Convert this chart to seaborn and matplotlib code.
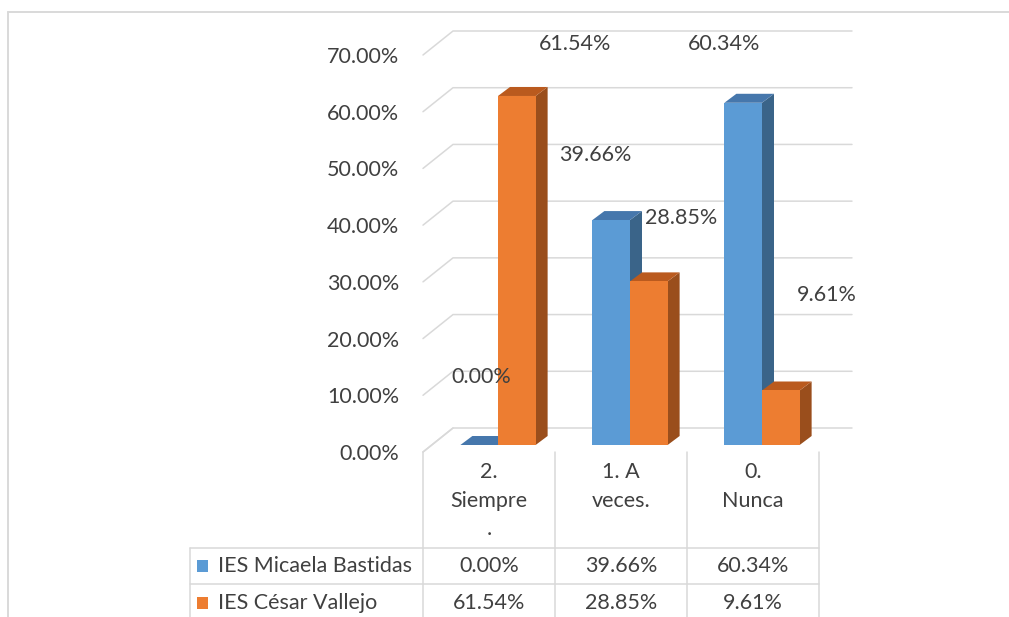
import numpy as np
import pandas as pd
import seaborn as sns
import matplotlib
matplotlib.use("Agg")
import matplotlib.pyplot as plt
from matplotlib.patches import Polygon, Rectangle
from matplotlib.lines import Line2D
import matplotlib.transforms as mtransforms

# ---------------- data ----------------
categories = ["2.\nSiempre\n.", "1. A\nveces.", "0.\nNunca"]
series_names = ["IES Micaela Bastidas", "IES César Vallejo"]
micaela = [0.00, 39.66, 60.34]
cesar = [61.54, 28.85, 9.61]
yticks = [0, 10, 20, 30, 40, 50, 60, 70]

# ---------------- style ----------------
sns.set_theme(style="white")
plt.rcParams['font.family'] = ['Lato', 'DejaVu Sans']
TXT = '#404040'
GRID = '#D9D9D9'
FS = 15.5
colors_front = ['#5B9BD5', '#ED7D31']
colors_top = ['#4677AC', '#BA5A1E']
colors_side = ['#3A6489', '#9A4E1C']

W, H = 1009, 617
fig = plt.figure(figsize=(W / 100, H / 100), dpi=100)
ID = mtransforms.IdentityTransform()


def dy(ytop):
    return H - ytop


ax_l, ax_r, ax_t, ax_b = 423, 819, 55, 452
ax = fig.add_axes([ax_l / W, (H - ax_b) / H, (ax_r - ax_l) / W, (ax_b - ax_t) / H])

df = pd.DataFrame({
    "cat": categories * 2,
    "series": [series_names[0]] * 3 + [series_names[1]] * 3,
    "val": micaela + cesar,
})
sns.barplot(data=df, x="cat", y="val", hue="series", order=categories,
            hue_order=series_names, palette=colors_front, width=0.57,
            saturation=1, ax=ax, legend=False, linewidth=0, edgecolor='none')
ax.set_xlim(-0.5, 2.5)
ax.set_ylim(0, 70)
ax.set_xlabel("")
ax.set_ylabel("")
for s in ax.spines.values():
    s.set_visible(False)
ax.set_yticks(yticks)
ax.set_yticklabels([f"{v:.2f}%" for v in yticks], fontsize=FS, color=TXT)
ax.set_xticks(range(len(categories)))
ax.set_xticklabels(categories, fontsize=FS, color=TXT, linespacing=1.55)
ax.tick_params(axis='y', length=0, pad=17)
ax.tick_params(axis='x', length=0, pad=7)
ax.patch.set_alpha(0)

fig.canvas.draw()
T = ax.transData

# ---------------- back wall gridlines ----------------
WDX, WDY = 30, 24
for v in yticks:
    x0, y0 = T.transform((-0.5, v))
    x1, y1 = T.transform((2.5, v))
    ax.add_line(Line2D([x0, x0 + WDX, x1 + WDX + 3], [y0, y0 + WDY, y1 + WDY],
                       color=GRID, lw=1.1, transform=ID, clip_on=False, zorder=0.5))

# ---------------- 3D bars ----------------
BDX, BDY = 9, 7      # shift of bar front plane
DDX, DDY = 12, 9     # depth of each bar
bars = sorted([p for p in ax.patches if isinstance(p, Rectangle) and p.get_width() > 0.01],
              key=lambda p: p.get_x())
shift = mtransforms.ScaledTranslation(BDX / 100, BDY / 100, fig.dpi_scale_trans)
label_dx = [2, 58, -16, 32, -19, 46]
label_dy = [68, 52, 65, 63, 59, 95]
for i, p in enumerate(bars):
    si = i % 2
    x0, x1 = p.get_x(), p.get_x() + p.get_width()
    h = p.get_height()
    p.set_transform(T + shift)
    p.set_clip_on(False)
    p.set_zorder(2 + i * 0.1)
    (ax0, ay0) = T.transform((x0, 0)) + np.array([BDX, BDY])
    (ax1, ay1) = T.transform((x1, h)) + np.array([BDX, BDY])
    side = Polygon([(ax1, ay0), (ax1 + DDX, ay0 + DDY), (ax1 + DDX, ay1 + DDY), (ax1, ay1)],
                   closed=True, facecolor=colors_side[si], edgecolor='none',
                   transform=ID, clip_on=False, zorder=2 + i * 0.1 - 0.01)
    top = Polygon([(ax0, ay1), (ax1, ay1), (ax1 + DDX, ay1 + DDY), (ax0 + DDX, ay1 + DDY)],
                  closed=True, facecolor=colors_top[si], edgecolor='none',
                  transform=ID, clip_on=False, zorder=2 + i * 0.1 - 0.01)
    ax.add_patch(side)
    ax.add_patch(top)
    cx = (ax0 + ax1) / 2
    ax.text(cx + label_dx[i], ay1 + label_dy[i], f"{h:.2f}%", transform=ID,
            ha='center', va='center', fontsize=FS, color=TXT, zorder=5, clip_on=False)

# ---------------- data table ----------------
bounds = [T.transform((b, 0))[0] for b in [-0.5, 0.5, 1.5, 2.5]]
ybase = T.transform((0, 0))[1]
for bx in bounds:
    fig.add_artist(Line2D([bx, bx], [ybase, dy(620)], color=GRID, lw=1.1, transform=ID))
# diagonal from floor corner
fig.add_artist(Line2D([bounds[0], bounds[0] + WDX], [ybase, ybase + WDY], color=GRID,
                      lw=1.1, transform=ID))
table_left = 190
for yt in [548, 584]:
    fig.add_artist(Line2D([table_left, bounds[-1]], [dy(yt), dy(yt)], color=GRID, lw=1.1,
                          transform=ID))
fig.add_artist(Line2D([table_left, table_left], [dy(548), dy(620)], color=GRID, lw=1.1,
                      transform=ID))
row_y = [566, 603]
for r, vals in enumerate([micaela, cesar]):
    fig.add_artist(Rectangle((197, dy(row_y[r]) - 6), 11, 12, facecolor=colors_front[r],
                             edgecolor='none', transform=ID))
    fig.text(218 / W, dy(row_y[r]) / H, series_names[r], ha='left', va='center',
             fontsize=FS, color=TXT)
    for c, v in enumerate(vals):
        cx = (bounds[c] + bounds[c + 1]) / 2
        fig.text(cx / W, dy(row_y[r]) / H, f"{v:.2f}%", ha='center', va='center',
                 fontsize=FS, color=TXT)

# ---------------- chart border ----------------
fig.add_artist(Line2D([8, W], [dy(12), dy(12)], color=GRID, lw=1.4, transform=ID))
fig.add_artist(Line2D([8, 8], [dy(12), 0], color=GRID, lw=1.4, transform=ID))

fig.savefig("out.png", dpi=100, facecolor='white')
